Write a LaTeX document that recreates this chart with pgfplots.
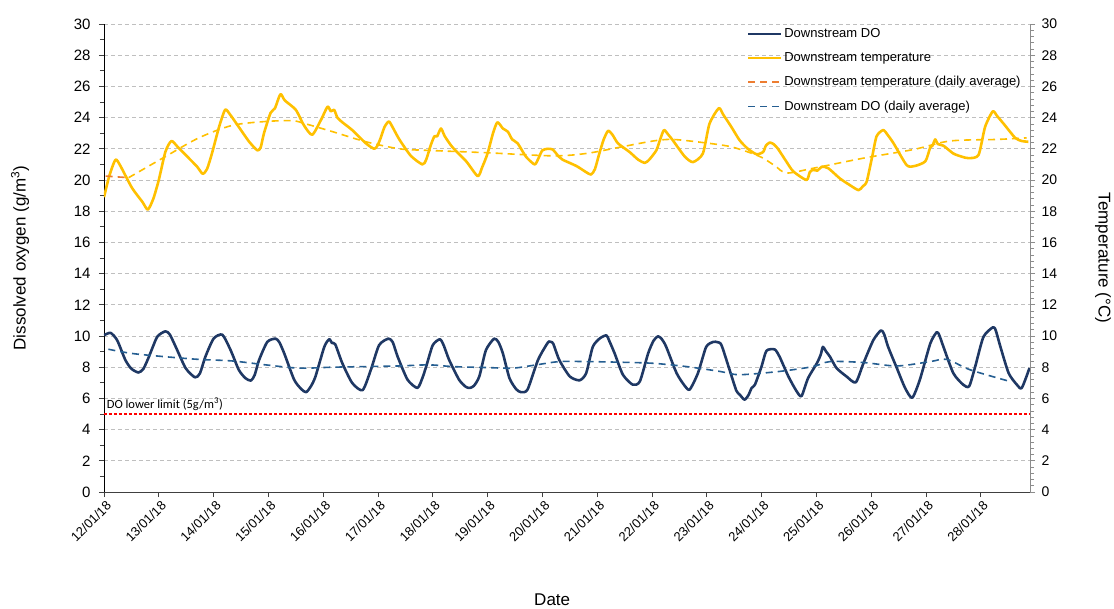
\documentclass[border=0pt]{standalone}
\usepackage{fontspec}
\setmainfont{Liberation Sans}
\newfontfamily\carlito{Carlito}
\usepackage{pgfplots}
\pgfplotsset{compat=1.18}
\definecolor{donavy}{RGB}{31,56,100}
\definecolor{tempyellow}{RGB}{255,192,0}
\definecolor{tavgorange}{RGB}{237,125,49}
\definecolor{doavgblue}{RGB}{37,94,145}
\definecolor{gridgray}{RGB}{191,191,191}
\definecolor{axgray}{RGB}{140,140,140}
\definecolor{axdark}{RGB}{64,64,64}
\definecolor{limitred}{RGB}{255,0,0}
\begin{document}
\begin{tikzpicture}[x=1pt,y=1pt]
\path[use as bounding box] (0,0) rectangle (1114,608);
\begin{axis}[
  at={(104pt,116pt)}, anchor=south west,
  scale only axis, width=926pt, height=468pt,
  xmin=0, xmax=16.9, ymin=0, ymax=30,
  axis lines*=left, axis line style={-},
  x axis line style={axdark, line width=0.8pt},
  y axis line style={black, line width=0.8pt},
  xtick={0,...,16},
  xticklabels={12/01/18,13/01/18,14/01/18,15/01/18,16/01/18,17/01/18,18/01/18,19/01/18,20/01/18,21/01/18,22/01/18,23/01/18,24/01/18,25/01/18,26/01/18,27/01/18,28/01/18},
  x tick label style={rotate=45, anchor=north east, font=\fontsize{13}{13}\selectfont, inner sep=1pt, yshift=-2pt},
  ytick={0,2,...,30},
  minor y tick num=1,
  y tick label style={font=\fontsize{15}{15}\selectfont, xshift=-5pt},
  /pgf/number format/assume math mode=true,
  tick align=outside,
  major tick length=5pt, minor tick length=4pt,
  tick style={axdark, line width=0.8pt},
  ymajorgrids,
  grid style={gridgray, dash pattern=on 4pt off 3pt, line width=0.8pt},
  ylabel={Dissolved oxygen (g/m\textsuperscript{3})},
  ylabel style={at={(axis description cs:-0.0907,0.5)}, anchor=center, font=\fontsize{17}{17}\selectfont},
  xlabel={Date},
  xlabel style={at={(axis description cs:0.484,-0.231)}, anchor=center, font=\fontsize{17}{17}\selectfont},
  legend style={at={(axis description cs:0.694,0.995)}, anchor=north west, draw=none, fill=none,
    font=\fontsize{13}{13}\selectfont, row sep=9.5pt, inner sep=0pt, cells={anchor=west}},
  legend image code/.code={\draw[#1] (0pt,0pt) -- (33pt,0pt);},
  clip=true,
]
% Downstream DO
\addplot[donavy, line width=2.6pt, line join=round, smooth, tension=0.4, forget plot] coordinates {
(0,10.05) (0.12,10.2) (0.24,9.73) (0.39,8.46) (0.5,7.9) (0.63,7.66) (0.72,7.9) (0.82,8.67) (0.97,9.94)
(1.12,10.3) (1.2,10.1) (1.31,9.3) (1.49,7.94) (1.66,7.35) (1.75,7.6) (1.85,8.67) (2.0,9.83)
(2.16,10.08) (2.31,9.1) (2.46,7.83) (2.58,7.3) (2.68,7.14) (2.75,7.5) (2.83,8.46) (2.98,9.62)
(3.13,9.83) (3.2,9.6) (3.29,8.88) (3.47,7.2) (3.6,6.6) (3.69,6.4) (3.78,6.8) (3.86,7.41)
(4.02,9.3) (4.11,9.79) (4.16,9.55) (4.22,9.47) (4.35,8.25) (4.53,6.99) (4.72,6.53) (4.87,7.83)
(5.02,9.41) (5.19,9.83) (5.27,9.6) (5.36,8.67) (5.54,7.2) (5.72,6.67) (5.81,7.3) (5.88,8.04)
(6.0,9.41) (6.13,9.79) (6.2,9.4) (6.30,8.46) (6.48,7.2) (6.6,6.75) (6.67,6.67) (6.75,6.8) (6.85,7.41)
(6.97,9.09) (7.12,9.83) (7.2,9.6) (7.28,8.88) (7.40,7.3) (7.52,6.6) (7.61,6.4) (7.73,6.57)
(7.92,8.46) (8.07,9.41) (8.12,9.65) (8.16,9.62) (8.2,9.5) (8.31,8.46) (8.50,7.41) (8.68,7.16)
(8.80,7.62) (8.92,9.3) (9.05,9.85) (9.17,10.04) (9.22,9.7) (9.32,8.88) (9.47,7.52) (9.65,6.88)
(9.78,7.09) (9.93,8.88) (10.03,9.7) (10.11,9.98) (10.18,9.8) (10.26,9.31) (10.45,7.62) (10.6,6.8)
(10.69,6.57) (10.84,7.62) (10.99,9.3) (11.12,9.62) (11.2,9.6) (11.27,9.41) (11.42,7.8) (11.54,6.5)
(11.60,6.25) (11.69,5.92) (11.76,6.2) (11.82,6.67) (11.88,6.88) (12.0,8.04) (12.09,9.05) (12.24,9.14)
(12.33,8.67) (12.49,7.41) (12.64,6.46) (12.73,6.15) (12.85,7.3) (13.01,8.25) (13.08,8.8) (13.12,9.3)
(13.18,9.0) (13.25,8.67) (13.37,7.94) (13.55,7.41) (13.72,7.03) (13.86,8.25) (14.04,9.73) (14.18,10.36)
(14.24,10.1) (14.31,9.31) (14.47,7.94) (14.62,6.67) (14.75,6.04) (14.89,7.2) (15.08,9.52) (15.20,10.25)
(15.25,10.0) (15.32,9.31) (15.50,7.62) (15.68,6.88) (15.79,6.78) (15.90,8.04) (16.05,9.94) (16.23,10.57)
(16.28,10.3) (16.36,9.31) (16.51,7.62) (16.66,6.88) (16.75,6.67) (16.89,7.94)
};
% Downstream temperature
\addplot[tempyellow, line width=2.6pt, line join=round, smooth, tension=0.4, forget plot] coordinates {
(0,18.9) (0.1,20.3) (0.21,21.3) (0.3,20.9) (0.51,19.5) (0.7,18.6) (0.80,18.1) (0.9,18.8) (1.0,20.0)
(1.12,21.8) (1.23,22.5) (1.35,22.1) (1.52,21.5) (1.70,20.85) (1.80,20.4) (1.88,20.7) (1.97,21.7)
(2.10,23.4) (2.21,24.5) (2.3,24.2) (2.46,23.4) (2.65,22.45) (2.80,21.9) (2.86,22.1) (2.92,23.0)
(3.04,24.3) (3.12,24.6) (3.22,25.5) (3.3,25.1) (3.50,24.5) (3.65,23.5) (3.80,22.9) (3.96,23.85)
(4.08,24.7) (4.14,24.4) (4.20,24.5) (4.26,24.0) (4.35,23.7) (4.53,23.2) (4.78,22.35) (4.93,22.0)
(4.99,22.2) (5.05,22.7) (5.12,23.4) (5.20,23.75) (5.28,23.3) (5.39,22.6) (5.60,21.55) (5.81,21.0)
(5.88,21.3) (5.96,22.2) (6.03,22.8) (6.08,22.8) (6.15,23.3) (6.22,22.8) (6.36,22.1) (6.61,21.2)
(6.82,20.25) (6.9,20.8) (7.0,21.7) (7.1,23.0) (7.18,23.7) (7.28,23.3) (7.37,23.1) (7.45,22.6)
(7.55,22.35) (7.7,21.5) (7.86,21.0) (7.93,21.4) (8.0,21.9) (8.1,22.0) (8.19,21.95) (8.3,21.5)
(8.37,21.3) (8.62,20.9) (8.80,20.5) (8.89,20.35) (8.96,20.7) (9.04,21.7) (9.12,22.6) (9.20,23.15)
(9.28,22.9) (9.38,22.35) (9.59,21.8) (9.75,21.3) (9.87,21.1) (9.95,21.3) (10.08,21.9) (10.15,22.6)
(10.22,23.2) (10.3,22.9) (10.38,22.55) (10.60,21.5) (10.75,21.15) (10.93,21.7) (11.05,23.6)
(11.22,24.6) (11.3,24.2) (11.45,23.4) (11.60,22.55) (11.75,22.0) (11.91,21.65) (12.03,21.8)
(12.08,22.2) (12.15,22.4) (12.22,22.3) (12.30,22.0) (12.45,21.2) (12.58,20.55) (12.82,20.0)
(12.88,20.5) (12.94,20.65) (13.02,20.6) (13.10,20.85) (13.22,20.75) (13.43,20.1) (13.6,19.7)
(13.77,19.35) (13.85,19.6) (13.92,19.9) (14.02,21.5) (14.10,22.8) (14.22,23.2) (14.3,22.9)
(14.41,22.35) (14.65,20.95) (14.80,20.9) (14.99,21.2) (15.08,22.1) (15.12,22.2) (15.17,22.6)
(15.22,22.3) (15.32,22.2) (15.50,21.7) (15.65,21.5) (15.78,21.4) (15.96,21.6) (16.08,23.4)
(16.22,24.4) (16.3,24.1) (16.42,23.6) (16.63,22.7) (16.75,22.5) (16.87,22.45)
};
% Temperature daily average
\addplot[tempyellow, line width=1.6pt, dash pattern=on 7pt off 5pt, smooth, forget plot] coordinates {
(0.45,20.15) (1.12,21.5) (1.73,22.7) (2.34,23.5) (2.95,23.75) (3.44,23.8) (3.68,23.6) (4.17,23.1)
(4.78,22.45) (5.39,22.0) (5.9,21.9) (6.97,21.75) (8.19,21.55) (8.80,21.7) (9.41,22.1) (10.02,22.5)
(10.38,22.6) (10.93,22.4) (11.42,22.15) (11.79,21.75) (12.03,21.4) (12.25,20.9) (12.46,20.45)
(12.94,20.75) (13.86,21.4) (14.77,21.95) (15.44,22.5) (16.30,22.6) (16.84,22.7)
};
\addplot[tavgorange, line width=1.6pt, dash pattern=on 7pt off 5pt, forget plot] coordinates {
(0.03,20.25) (0.45,20.15)
};
% DO daily average
\addplot[doavgblue, line width=1.6pt, dash pattern=on 7pt off 5pt, smooth, forget plot] coordinates {
(0.08,9.15) (0.51,8.88) (1.12,8.67) (1.73,8.5) (2.34,8.4) (2.95,8.15) (3.56,7.94) (4.17,8.0)
(4.78,8.04) (5.39,8.08) (5.94,8.15) (6.36,8.04) (6.97,7.98) (7.46,7.94) (7.89,8.15) (8.31,8.36)
(8.80,8.36) (9.41,8.32) (10.02,8.25) (10.63,8.04) (11.24,7.73) (11.6,7.52) (12.33,7.73) (12.94,8.04)
(13.25,8.36) (13.86,8.3) (14.47,8.08) (15.08,8.36) (15.38,8.5) (15.81,7.83) (16.48,7.14)
};
% DO lower limit
\addplot[draw=limitred, line width=1.1pt, dash pattern=on 3pt off 2pt, forget plot] coordinates {(0,5) (16.9,5)};
\node[anchor=south west, inner sep=1pt, font=\carlito\fontsize{12.5}{12.5}\selectfont] at (axis cs:0.03,5.15) {DO lower limit (5g/m\textsuperscript{3})};
% legend
\addlegendimage{donavy, line width=2.5pt}
\addlegendentry{Downstream DO}
\addlegendimage{tempyellow, line width=2.5pt}
\addlegendentry{Downstream temperature}
\addlegendimage{tavgorange, line width=1.6pt, dash pattern=on 7pt off 5pt}
\addlegendentry{Downstream temperature (daily average)}
\addlegendimage{doavgblue, line width=1.6pt, dash pattern=on 7pt off 5pt}
\addlegendentry{Downstream DO (daily average)}
\end{axis}
\begin{axis}[
  at={(104pt,116pt)}, anchor=south west,
  scale only axis, width=926pt, height=468pt,
  xmin=0, xmax=16.9, ymin=0, ymax=30,
  axis x line=none, axis y line*=right, axis line style={-, axgray, line width=0.8pt},
  ytick={0,2,...,30}, minor y tick num=4,
  tick align=outside, major tick length=5pt, minor tick length=4pt,
  tick style={axgray, line width=0.6pt},
  y tick label style={font=\fontsize{14}{14}\selectfont, xshift=3pt},
  /pgf/number format/assume math mode=true,
  ylabel={Temperature (°C)},
  ylabel style={at={(axis description cs:1.0788,0.5)}, anchor=center, rotate=180, font=\fontsize{17}{17}\selectfont},
]
\end{axis}
\end{tikzpicture}
\end{document}
